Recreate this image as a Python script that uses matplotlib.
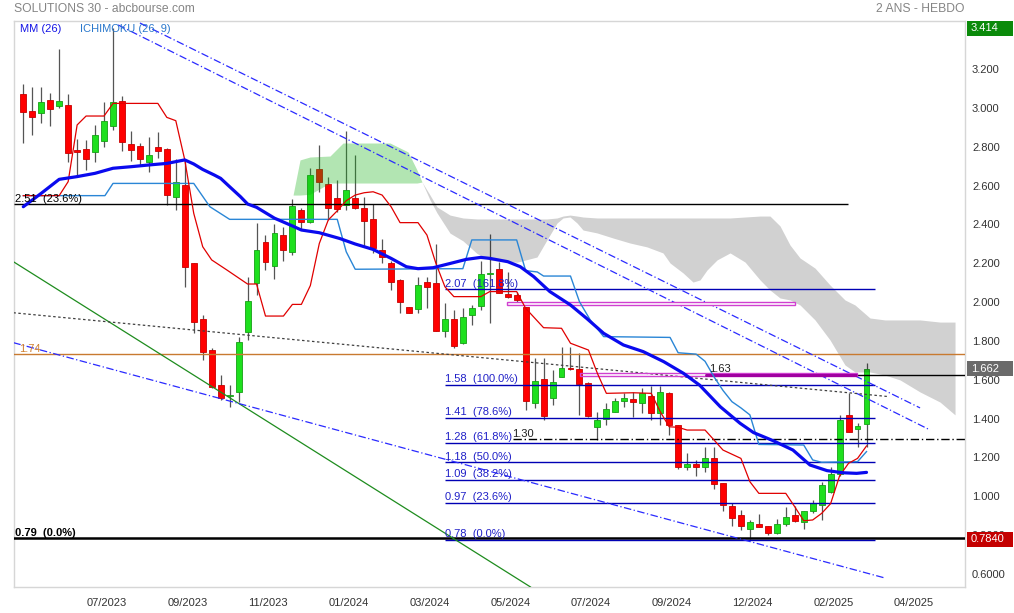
import matplotlib
matplotlib.use("Agg")
import matplotlib.pyplot as plt
import matplotlib.transforms as mtransforms
from matplotlib.patches import Rectangle
import numpy as np

plt.rcParams['font.family'] = ['Liberation Sans', 'DejaVu Sans']

# ---------------- data (weekly candles, index = week number) ----------------
opens = [3.076, 2.989, 2.977, 3.044, 3.016, 3.020, 2.785, 2.791, 2.776, 2.836,
         2.913, 3.039, 2.819, 2.809, 2.728, 2.802, 2.791, 2.548, 2.608, 2.204,
         1.916, 1.758, 1.578, 1.520, 1.540, 1.852, 2.101, 2.313, 2.192, 2.349,
         2.264, 2.479, 2.416, 2.688, 2.613, 2.539, 2.505, 2.539, 2.488, 2.433,
         2.271, 2.204, 2.119, 1.981, 1.969, 2.107, 2.101, 1.854, 1.916, 1.793,
         1.938, 1.985, 2.148, 2.174, 2.047, 2.040, 1.978, 1.487, 1.609, 1.509,
         1.621, 1.667, 1.659, 1.587, 1.360, 1.401, 1.441, 1.497, 1.504, 1.484,
         1.523, 1.435, 1.539, 1.372, 1.157, 1.171, 1.154, 1.200, 1.072, 0.955,
         0.909, 0.837, 0.862, 0.852, 0.814, 0.860, 0.907, 0.874, 0.931, 0.960,
         1.025, 1.118, 1.424, 1.350, 1.377]
highs = [3.128, 3.114, 3.114, 3.083, 3.310, 3.076, 2.843, 2.840, 2.917, 3.037,
         3.414, 3.066, 2.886, 2.822, 2.853, 2.881, 2.797, 2.740, 2.737, 2.204,
         1.938, 1.767, 1.629, 1.578, 1.827, 2.132, 2.410, 2.350, 2.405, 2.390,
         2.534, 2.488, 2.694, 2.814, 2.651, 2.634, 2.886, 2.762, 2.548, 2.510,
         2.330, 2.216, 2.122, 1.981, 2.136, 2.136, 2.304, 1.998, 1.964, 1.973,
         1.990, 2.216, 2.355, 2.213, 2.162, 2.059, 1.978, 1.715, 1.715, 1.655,
         1.775, 1.775, 1.744, 1.595, 1.441, 1.484, 1.509, 1.535, 1.544, 1.561,
         1.574, 1.574, 1.544, 1.372, 1.230, 1.192, 1.260, 1.260, 1.072, 0.969,
         0.934, 0.883, 0.912, 0.852, 0.886, 0.948, 0.955, 0.927, 0.986, 1.080,
         1.157, 1.424, 1.539, 1.381, 1.690]
lows = [2.822, 2.865, 2.925, 2.913, 3.006, 2.728, 2.651, 2.685, 2.725, 2.802,
        2.891, 2.785, 2.733, 2.706, 2.676, 2.745, 2.505, 2.479, 2.084, 1.844,
        1.707, 1.560, 1.501, 1.463, 1.492, 1.810, 2.041, 2.170, 2.124, 2.218,
        2.247, 2.376, 2.410, 2.573, 2.428, 2.470, 2.479, 2.482, 2.290, 2.256,
        2.204, 2.067, 1.947, 1.947, 1.947, 1.973, 1.858, 1.827, 1.767, 1.789,
        1.887, 1.964, 1.895, 2.050, 2.024, 2.007, 1.449, 1.458, 1.398, 1.475,
        1.621, 1.655, 1.424, 1.415, 1.295, 1.372, 1.441, 1.466, 1.411, 1.432,
        1.398, 1.372, 1.320, 1.145, 1.140, 1.109, 1.132, 1.041, 0.931, 0.852,
        0.831, 0.784, 0.848, 0.806, 0.809, 0.852, 0.874, 0.835, 0.917, 0.883,
        1.020, 1.109, 1.338, 1.257, 1.260]
closes = [2.985, 2.960, 3.034, 2.997, 3.039, 2.771, 2.780, 2.740, 2.864, 2.936,
          3.034, 2.831, 2.790, 2.743, 2.761, 2.785, 2.558, 2.622, 2.187, 1.904,
          1.750, 1.569, 1.513, 1.526, 1.798, 2.010, 2.273, 2.213, 2.359, 2.271,
          2.500, 2.416, 2.659, 2.622, 2.488, 2.482, 2.582, 2.488, 2.424, 2.285,
          2.239, 2.110, 2.007, 1.950, 2.091, 2.081, 1.858, 1.916, 1.779, 1.930,
          1.973, 2.148, 2.155, 2.050, 2.033, 2.016, 1.497, 1.599, 1.420, 1.592,
          1.664, 1.659, 1.581, 1.420, 1.398, 1.453, 1.496, 1.509, 1.489, 1.535,
          1.435, 1.540, 1.372, 1.154, 1.171, 1.154, 1.200, 1.066, 0.960, 0.891,
          0.854, 0.871, 0.848, 0.814, 0.862, 0.900, 0.879, 0.927, 0.969, 1.063,
          1.118, 1.398, 1.338, 1.367, 1.662]

# MM (26)
mm_x = [0, 2, 4, 6, 8, 10, 12, 14, 16, 18, 19, 20, 21.3, 22, 23, 24.2, 25, 26,
        28, 30, 31, 33, 35.3, 37, 39, 41, 42.7, 44, 45.7, 47.6, 49.4, 51, 52,
        54, 55.4, 56.9, 58.7, 61, 62.8, 64.7, 66.9, 69.1, 71.4, 73.6, 75.4,
        77.7, 79.9, 81.4, 83.6, 85.8, 87.7, 89.6, 91.4, 92.9, 94]
mm_y = [2.496, 2.565, 2.637, 2.651, 2.668, 2.694, 2.702, 2.711, 2.719, 2.737,
        2.716, 2.688, 2.659, 2.642, 2.599, 2.548, 2.510, 2.493, 2.437, 2.397,
        2.376, 2.362, 2.332, 2.304, 2.276, 2.230, 2.187, 2.177, 2.182, 2.204,
        2.225, 2.235, 2.230, 2.213, 2.187, 2.136, 2.059, 1.990, 1.921, 1.844,
        1.784, 1.750, 1.698, 1.638, 1.577, 1.466, 1.381, 1.333, 1.291, 1.243,
        1.166, 1.137, 1.126, 1.123, 1.128]

# Ichimoku tenkan (red) and kijun (blue)
tenkan_x = [0, 4, 5, 6, 7, 9, 10, 15, 16, 17, 18, 19, 20, 21, 22.7, 25, 26, 27,
            29, 30, 31, 32, 33, 34, 35, 36, 37, 38, 39, 40, 41, 42, 44, 45, 46,
            47, 48, 51, 52, 55, 56, 58, 60, 61, 63, 64, 65, 68, 70, 71, 72, 73,
            74, 76, 77, 78, 80, 81, 82, 85, 86, 87, 88, 89, 90, 91, 92, 93, 94]
tenkan_y = [2.553, 2.553, 2.625, 2.917, 2.963, 2.963, 3.028, 3.028, 2.956,
            2.939, 2.737, 2.462, 2.290, 2.222, 2.170, 2.098, 2.098, 1.933,
            1.933, 1.993, 1.993, 2.090, 2.307, 2.428, 2.475, 2.527, 2.556,
            2.568, 2.573, 2.556, 2.496, 2.414, 2.414, 2.350, 2.204, 2.084,
            2.033, 2.033, 2.059, 2.059, 1.973, 1.873, 1.870, 1.793, 1.758,
            1.638, 1.535, 1.538, 1.535, 1.441, 1.363, 1.360, 1.346, 1.346,
            1.295, 1.243, 1.200, 1.080, 1.020, 1.020, 0.951, 0.879, 0.883,
            0.917, 0.967, 1.110, 1.175, 1.200, 1.264]
kijun_x = [0, 9.1, 10, 19, 20.8, 23, 35, 36, 37, 49, 50, 55, 56, 57.3, 58, 61,
           62, 63.2, 64.7, 72.1, 73, 75, 76, 77, 78, 79, 80, 81, 82, 87, 88,
           89, 93, 94]
kijun_y = [2.553, 2.553, 2.616, 2.616, 2.496, 2.431, 2.431, 2.264, 2.174,
           2.177, 2.325, 2.325, 2.167, 2.160, 2.139, 2.139, 2.007, 1.913,
           1.827, 1.823, 1.744, 1.737, 1.700, 1.620, 1.550, 1.492, 1.460,
           1.424, 1.272, 1.269, 1.192, 1.180, 1.183, 1.235]

# Ichimoku cloud (bullish = green, bearish = grey)
cloud_up_x = [30.07, 30.85, 31.96, 34.19, 35.64, 40.88, 42.89, 43.89, 44.45]
cloud_up_top = [2.556, 2.737, 2.752, 2.757, 2.824, 2.824, 2.778, 2.685, 2.623]
cloud_up_bot = [2.556, 2.556, 2.560, 2.618, 2.618, 2.618, 2.618, 2.618, 2.623]
cloud_dn_x = [44.45, 45.34, 46.12, 47.57, 49.02, 50.58, 52.03, 55.04, 57.27,
              58.38, 59.5, 60.17, 60.95, 61.73, 62.4, 63.96, 65.74, 67.64,
              69.53, 71.31, 72.1, 73.55, 74.66, 75.44, 76.22, 77.34, 78.79,
              80.46, 82.13, 83.24, 84.36, 85.47, 86.59, 88.26, 89.93, 91.6,
              92.72, 94.39, 96.07, 97.74, 99.97, 102.2, 103.87]
cloud_dn_top = [2.623, 2.556, 2.495, 2.453, 2.438, 2.433, 2.433, 2.433, 2.433,
                2.433, 2.438, 2.448, 2.453, 2.448, 2.443, 2.438, 2.438, 2.438,
                2.438, 2.438, 2.438, 2.438, 2.438, 2.438, 2.438, 2.438, 2.438,
                2.443, 2.448, 2.448, 2.397, 2.299, 2.232, 2.180, 2.093, 2.016,
                1.990, 1.923, 1.913, 1.913, 1.913, 1.902, 1.902]
cloud_dn_bot = [2.623, 2.531, 2.464, 2.360, 2.320, 2.255, 2.220, 2.210, 2.237,
                2.325, 2.412, 2.438, 2.443, 2.412, 2.376, 2.361, 2.335, 2.309,
                2.289, 2.258, 2.206, 2.155, 2.108, 2.119, 2.170, 2.222, 2.258,
                2.211, 2.119, 2.067, 2.026, 2.016, 1.990, 1.913, 1.810, 1.681,
                1.645, 1.645, 1.629, 1.604, 1.542, 1.490, 1.424]

# drawn trend lines (week index, price)
chan1 = ([10.57, 101.1], [3.432, 1.346])
chan2 = ([13.0, 99.97], [3.442, 1.460])
green_line = ([-1.11, 56.54], [2.213, 0.538])
low_chan = ([-1.11, 96.07], [1.796, 0.584])
dotted_line = ([-1.11, 96.3], [1.950, 1.519])

fib_levels = [2.07, 1.58, 1.41, 1.28, 1.18, 1.09, 0.97, 0.78]
fib_labels = ['2.07  (161.8%)', '1.58  (100.0%)', '1.41  (78.6%)',
              '1.28  (61.8%)', '1.18  (50.0%)', '1.09  (38.2%)',
              '0.97  (23.6%)', '0.78  (0.0%)']

price_ticks = [3.2, 3.0, 2.8, 2.6, 2.4, 2.2, 2.0, 1.8, 1.6, 1.4, 1.2, 1.0, 0.8, 0.6]
price_tick_labels = ['3.200', '3.000', '2.800', '2.600', '2.400', '2.200', '2.000',
                     '1.800', '1.600', '1.400', '1.200', '1.000', '0.8000', '0.6000']
date_ticks = [9.3, 18.3, 27.3, 36.3, 45.3, 54.3, 63.3, 72.3, 81.3, 90.3, 99.3]
date_labels = ['07/2023', '09/2023', '11/2023', '01/2024', '03/2024', '05/2024',
               '07/2024', '09/2024', '12/2024', '02/2025', '04/2025']

# ---------------- figure ----------------
W, H = 1014, 613
fig = plt.figure(figsize=(W / 100, H / 100), dpi=100)
ax = fig.add_axes([14 / W, 26 / H, 951 / W, 566 / H])
X0, X1 = -1.037, 104.98
ax.set_xlim(X0, X1)
ax.set_ylim(0.5378, 3.4523)

for s in ax.spines.values():
    s.set_color('#d6d6d6')
    s.set_linewidth(1.0)

# candles
idx = np.arange(len(opens))
o = np.array(opens); c = np.array(closes); h = np.array(highs); l = np.array(lows)
up = c >= o
ax.vlines(idx, l, h, color='#555555', lw=0.9, zorder=2)
body_bot = np.minimum(o, c)
body_h = np.maximum(np.abs(c - o), 0.006)
ax.bar(idx[up], body_h[up], bottom=body_bot[up], width=0.66, color='#1ee01e',
       edgecolor='#16a016', linewidth=0.6, zorder=3)
ax.bar(idx[~up], body_h[~up], bottom=body_bot[~up], width=0.66, color='#ff0000',
       edgecolor='#c80000', linewidth=0.6, zorder=3)

# cloud (semi-transparent, above candles)
ax.fill_between(cloud_up_x, cloud_up_bot, cloud_up_top, color='#10b010',
                alpha=0.32, lw=0, zorder=4)
ax.fill_between(cloud_dn_x, cloud_dn_bot, cloud_dn_top, color='#000000',
                alpha=0.18, lw=0, zorder=4)

# horizontal levels
ax.axhline(1.74, color='#c87a30', lw=1.0, zorder=5)
ax.hlines(2.51, X0, 91.9, color='#000000', lw=1.0, zorder=5)
ax.axhline(0.79, color='#000000', lw=1.8, zorder=5)
ax.hlines(fib_levels, 47.0, 94.95, color='#0000b4', lw=1.0, zorder=5)
ax.hlines(1.30, 54.6, X1, color='#000000', lw=1.0, linestyles=(0, (6, 2, 1, 2)), zorder=5)
ax.hlines(1.628, 76.0, X1, color='#000000', lw=1.0, zorder=5)

# magenta boxes
ax.add_patch(Rectangle((62.06, 1.622), 92.94 - 62.06, 0.017, fill=False,
                       edgecolor='#d040d0', lw=1.0, zorder=6))
ax.hlines(1.630, 76.0, 92.94, color='#a000a0', lw=2.2, zorder=6)
ax.add_patch(Rectangle((53.9, 1.988), 86.0 - 53.9, 0.015, facecolor='white',
                       edgecolor='#d040d0', lw=1.0, zorder=6))

# trend lines
ax.plot(*green_line, color='#1e8c1e', lw=0.9, zorder=5)
ax.plot(*low_chan, color='#2a2aff', lw=0.9, ls=(0, (6, 2, 1, 2)), zorder=5)
ax.plot(*chan1, color='#2a2aff', lw=0.9, ls=(0, (6, 2, 1, 2)), zorder=5)
ax.plot(*chan2, color='#2a2aff', lw=0.9, ls=(0, (6, 2, 1, 2)), zorder=5)
ax.plot(*dotted_line, color='#404040', lw=0.9, ls=(0, (2, 2)), zorder=5)

# indicators
ax.plot(kijun_x, kijun_y, color='#2a86d6', lw=1.0, zorder=7)
ax.plot(tenkan_x, tenkan_y, color='#e00000', lw=0.9, zorder=7)
ax.plot(mm_x, mm_y, color='#0a0aee', lw=2.3, zorder=8, solid_capstyle='round')

# labels on levels
fs = 8
ax.text(-0.93, 2.51, '2.51  (23.6%)', fontsize=fs, color='#000000', va='bottom', ha='left', zorder=9)
ax.text(-0.5, 1.74, '1.74', fontsize=fs, color='#d08030', va='bottom', ha='left', zorder=9)
ax.text(-0.93, 0.79, '0.79  (0.0%)', fontsize=fs, color='#000000', va='bottom', ha='left',
        fontweight='bold', zorder=9)
for lv, lb in zip(fib_levels, fib_labels):
    ax.text(47.0, lv + 0.004, lb, fontsize=fs, color='#2020c8', va='bottom', ha='left', zorder=9)
ax.text(76.5, 1.636, '1.63', fontsize=fs, color='#202020', va='bottom', ha='left', zorder=9)
ax.text(54.5, 1.302, '1.30', fontsize=fs, color='#202020', va='bottom', ha='left', zorder=9)

# axes ticks
ax.set_xticks(date_ticks)
ax.set_xticklabels(date_labels, fontsize=fs, color='#333333')
ax.tick_params(axis='x', length=0, pad=8)
ax.set_yticks([])
trans = mtransforms.blended_transform_factory(ax.transAxes, ax.transData)
for v, lb in zip(price_ticks, price_tick_labels):
    ax.text(1.0074, v, lb, transform=trans, fontsize=fs, color='#333333',
            va='center', ha='left', clip_on=False)

# value boxes on the price axis
bw, bh = 46 / 951, 15 / 194.2
for v, lb, col in [(3.414, '3.414', '#0a8a0a'), (1.662, '1.662', '#6a6a6a'),
                   (0.784, '0.7840', '#c40000')]:
    ax.add_patch(Rectangle((1.0021, v - bh / 2), bw, bh, transform=trans,
                           facecolor=col, edgecolor='none', clip_on=False, zorder=10))
    ax.text(1.0060, v, lb, transform=trans, fontsize=fs, color='white',
            va='center', ha='left', clip_on=False, zorder=11)

# headers
fig.text(14 / W, 1 - 9 / H, 'SOLUTIONS 30 - abcbourse.com', fontsize=8.7,
         color='#858585', va='center', ha='left')
fig.text(965 / W, 1 - 9 / H, '2 ANS - HEBDO', fontsize=8.7, color='#858585',
         va='center', ha='right')
ax.text(6 / 951, 1 - 8 / 566, 'MM (26)', transform=ax.transAxes, fontsize=fs,
        color='#1414e6', va='center', ha='left', zorder=11)
ax.text(66 / 951, 1 - 8 / 566, 'ICHIMOKU (26, 9)', transform=ax.transAxes, fontsize=fs,
        color='#2a78cc', va='center', ha='left', zorder=11)

fig.savefig('out.png', dpi=100)
